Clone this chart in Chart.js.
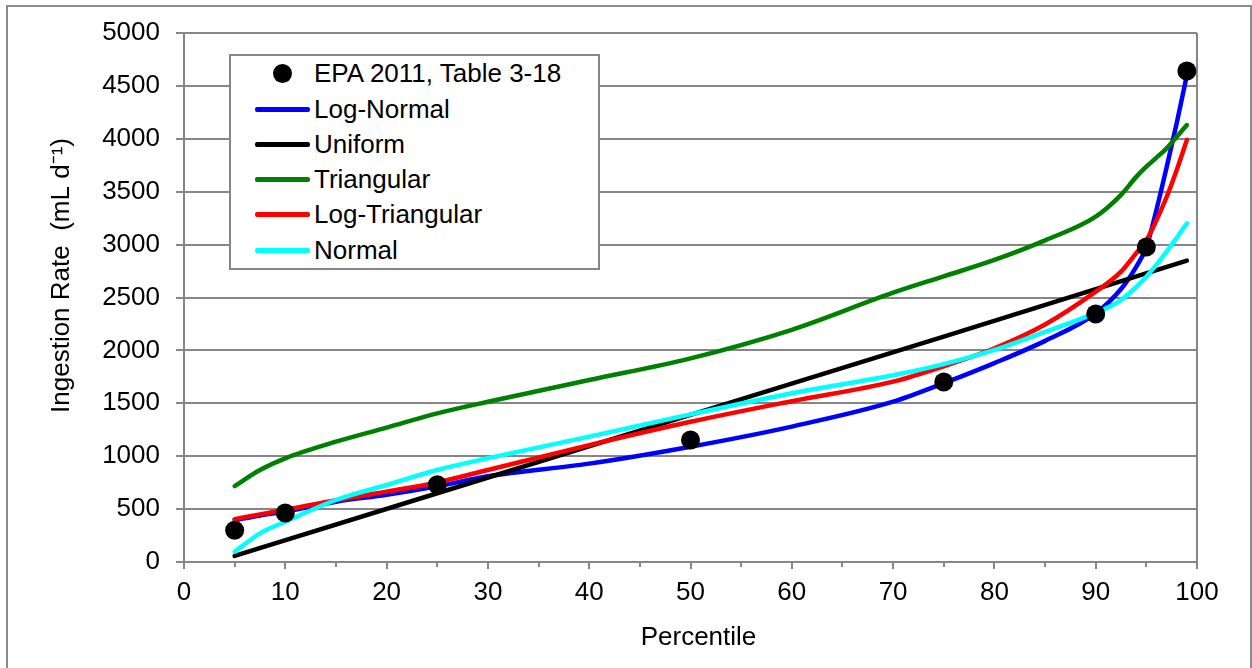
<!DOCTYPE html>
<html><head><meta charset="utf-8">
<script src="https://cdn.jsdelivr.net/npm/chart.js@4/dist/chart.umd.min.js"></script>
<style>
html,body{margin:0;padding:0;background:#fff;}
#wrap{position:relative;width:1252px;height:668px;overflow:hidden;background:#fff;}
#c{position:absolute;left:0;top:0;}
#legend{position:absolute;left:229px;top:54px;width:371px;height:216px;border:2px solid #868686;background:#fff;box-sizing:border-box;font-family:"Liberation Sans",Arial,sans-serif;font-size:26px;color:#000;}
.row{position:absolute;left:0;width:100%;height:36px;line-height:36px;white-space:nowrap;}
.row .txt{position:absolute;left:83px;top:0;}
.row .ln{position:absolute;left:24px;top:16px;width:55px;height:4.5px;border-radius:2px;}
.row .dot{position:absolute;left:42px;top:8.5px;width:19px;height:19px;border-radius:50%;background:#000;}
</style>
</head><body>
<div id="wrap"><canvas id="c" width="1252" height="668"></canvas><div id="legend"></div></div>
<script>
// ---- data ----
const epaPercentiles = [5, 10, 25, 50, 75, 90, 95, 99];
const epaValues = [300, 463, 730, 1153, 1701, 2344, 2977, 4640];

const curvePercentiles = [5, 7.5, 10, 15, 20, 25, 30, 40, 50, 60, 70, 75, 80, 85, 90, 92.5, 94, 95, 96, 97, 98, 99];
const logNormal     = [395, 440, 478, 570, 635, 715, 810, 930, 1090, 1280, 1515, 1690, 1880, 2090, 2350, 2580, 2790, 2975, 3330, 3730, 4150, 4600];
const triangular    = [718, 870, 980, 1137, 1270, 1405, 1515, 1720, 1925, 2195, 2545, 2700, 2855, 3040, 3264, 3470, 3640, 3736, 3822, 3910, 4020, 4130];
const logTriangular = [405, 450, 492, 585, 665, 752, 870, 1105, 1325, 1520, 1705, 1850, 2020, 2245, 2555, 2744, 2920, 3040, 3230, 3450, 3705, 3990];
const normal        = [97, 271, 381, 586, 728, 870, 980, 1185, 1395, 1595, 1765, 1870, 2004, 2175, 2355, 2476, 2600, 2697, 2810, 2933, 3065, 3201];

const uniformPercentiles = [5, 25, 50, 75, 99];
const uniform = [57, 650, 1390, 2130, 2848];

const seriesNames = ["EPA 2011, Table 3-18", "Log-Normal", "Uniform", "Triangular", "Log-Triangular", "Normal"];
const seriesColors = ["#000000", "#0000FF", "#000000", "#008000", "#FF0000", "#00FFFF"];

const xTicks = [0, 10, 20, 30, 40, 50, 60, 70, 80, 90, 100];
const yTicks = [0, 500, 1000, 1500, 2000, 2500, 3000, 3500, 4000, 4500, 5000];

const xTitle = "Percentile";
const yTitle = "Ingestion Rate  (mL d\u207B\u00B9)";

// ---- build ----
const pts = (xs, ys) => xs.map((x, i) => ({x: x, y: ys[i]}));
const FONT = '"Liberation Sans", Arial, sans-serif';
const GRID = '#868686';

function lineDs(i, xs, ys, order) {
  return {
    label: seriesNames[i], data: pts(xs, ys), borderColor: seriesColors[i], backgroundColor: seriesColors[i],
    borderWidth: 4.5, pointRadius: 0, fill: false, showLine: true, order: order,
    cubicInterpolationMode: 'monotone', borderCapStyle: 'round', borderJoinStyle: 'round'
  };
}

const datasets = [
  { label: seriesNames[0], data: pts(epaPercentiles, epaValues), showLine: false, pointRadius: 9.5,
    pointBackgroundColor: '#000', pointBorderWidth: 0, borderColor: '#000', backgroundColor: '#000', order: 0 },
  lineDs(1, curvePercentiles, logNormal, 5),
  Object.assign(lineDs(2, uniformPercentiles, uniform, 4), {cubicInterpolationMode: 'default', tension: 0}),
  lineDs(3, curvePercentiles, triangular, 3),
  lineDs(4, curvePercentiles, logTriangular, 2),
  lineDs(5, curvePercentiles, normal, 1)
];

const decor = {
  id: 'decor',
  beforeDraw(chart) {
    const ctx = chart.ctx;
    ctx.save();
    ctx.fillStyle = '#fff';
    ctx.fillRect(0, 0, chart.width, chart.height);
    ctx.strokeStyle = '#8a8a8a';
    ctx.lineWidth = 2;
    ctx.strokeRect(7, 6, 1244, 700);
    ctx.restore();
  },
  afterDraw(chart) {
    const ctx = chart.ctx, xs = chart.scales.x, ca = chart.chartArea;
    ctx.save();
    ctx.strokeStyle = GRID;
    ctx.lineWidth = 2;
    for (let i = 0; i < xTicks.length - 1; i++) {
      const v = (xTicks[i] + xTicks[i + 1]) / 2;
      const px = Math.round(xs.getPixelForValue(v));
      ctx.beginPath(); ctx.moveTo(px, ca.bottom); ctx.lineTo(px, ca.bottom + 5); ctx.stroke();
    }
    // axis titles
    ctx.fillStyle = '#000';
    ctx.font = '26px ' + FONT;
    ctx.textAlign = 'center';
    ctx.textBaseline = 'middle';
    ctx.fillText(xTitle, (ca.left + ca.right) / 2 + 8, 638);
    ctx.translate(62, (ca.top + ca.bottom) / 2 - 22);
    ctx.rotate(-Math.PI / 2);
    ctx.fillText(yTitle, 0, 0);
    ctx.restore();
  }
};

new Chart(document.getElementById('c'), {
  type: 'scatter',
  data: { datasets: datasets },
  plugins: [decor],
  options: {
    responsive: false, animation: false, devicePixelRatio: 1,
    layout: { padding: { left: 0, top: 33, right: 55, bottom: 0 } },
    plugins: { legend: { display: false }, tooltip: { enabled: false } },
    scales: {
      x: {
        type: 'linear', min: 0, max: 100,
        afterBuildTicks: s => { s.ticks = xTicks.map(v => ({value: v})); },
        afterFit: s => { s.height = 106; },
        ticks: { color: '#000', font: { family: FONT, size: 26 }, padding: 8, maxRotation: 0, autoSkip: false,
                 callback: v => String(v) },
        grid: { drawOnChartArea: true, color: c => (c.tick && c.tick.value === 100) ? GRID : 'rgba(0,0,0,0)',
                tickColor: GRID, lineWidth: 2, tickLength: 7 },
        border: { display: true, color: GRID, width: 2 },
        title: { display: false }
      },
      y: {
        type: 'linear', min: 0, max: 5000,
        afterBuildTicks: s => { s.ticks = yTicks.map(v => ({value: v})); },
        afterFit: s => { s.width = 184; },
        ticks: { color: '#000', font: { family: FONT, size: 26 }, padding: 16, autoSkip: false,
                 callback: v => String(v) },
        grid: { color: GRID, lineWidth: 2, tickLength: 8, tickColor: GRID },
        border: { display: true, color: GRID, width: 2 },
        title: { display: false }
      }
    }
  }
});

// ---- legend (HTML text) ----
const legend = document.getElementById('legend');
const rowCenters = [17.3, 53, 88.3, 123.3, 158.3, 194];
seriesNames.forEach((name, i) => {
  const r = document.createElement('div');
  r.className = 'row';
  r.style.top = (rowCenters[i] - 18) + 'px';
  const mk = document.createElement('div');
  if (i === 0) { mk.className = 'dot'; } else { mk.className = 'ln'; mk.style.background = seriesColors[i]; }
  r.appendChild(mk);
  const t = document.createElement('span');
  t.className = 'txt'; t.textContent = name;
  r.appendChild(t);
  legend.appendChild(r);
});
</script>
</body></html>
